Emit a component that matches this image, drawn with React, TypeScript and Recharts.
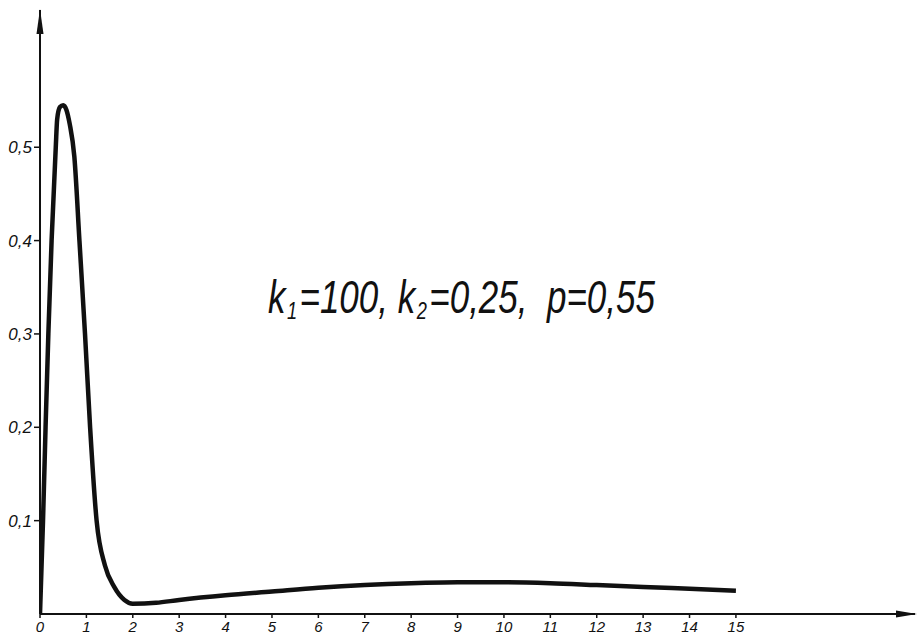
import { Line, LineChart, XAxis, YAxis } from "recharts";

// curve (t, value)
const tValues = [
  0, 0.065, 0.12, 0.18, 0.25, 0.34, 0.37, 0.43, 0.5, 0.57, 0.64, 0.74, 0.85, 0.97, 1.08,
  1.22, 1.4, 1.6, 1.82, 2.0, 2.5, 3, 4, 5, 6, 7, 8, 9, 10, 11, 12, 13, 14, 15,
];
const fValues = [
  0, 0.1, 0.2, 0.3, 0.4, 0.5, 0.53, 0.543, 0.545, 0.54, 0.525, 0.49, 0.4, 0.3, 0.2,
  0.1, 0.052, 0.029, 0.015, 0.011, 0.012, 0.015, 0.02, 0.024, 0.028, 0.031, 0.033, 0.034,
  0.034, 0.033, 0.031, 0.029, 0.027, 0.025,
];
const xTicks = [0, 1, 2, 3, 4, 5, 6, 7, 8, 9, 10, 11, 12, 13, 14, 15];
const yTicks = [0.1, 0.2, 0.3, 0.4, 0.5];

const data = tValues.map((t, i) => ({ t, f: fValues[i] }));

const W = 917;
const H = 638;
const font = "'Liberation Sans', Arial, sans-serif";

const comma = (v: number) => String(v).replace(".", ",");

export default function App() {
  return (
    <div style={{ position: "absolute", left: 0, top: 0, width: W, height: H, background: "#fff" }}>
      <LineChart width={W} height={H} data={data} margin={{ top: 10, right: 2, left: 0, bottom: 0 }}>
        <XAxis
          dataKey="t"
          type="number"
          domain={[0, 18.86]}
          ticks={xTicks}
          interval={0}
          allowDataOverflow
          height={24}
          tickSize={4}
          tickMargin={3}
          tick={{ fontSize: 15, fontStyle: "italic", fontFamily: font, fill: "#111" }}
          axisLine={{ stroke: "#111", strokeWidth: 2 }}
          tickLine={{ stroke: "#111", strokeWidth: 1.5 }}
        />
        <YAxis
          type="number"
          domain={[0, 0.647]}
          ticks={yTicks}
          interval={0}
          allowDataOverflow
          width={40}
          tickSize={6}
          tickMargin={2}
          tickFormatter={comma}
          tick={{ fontSize: 17, fontStyle: "italic", fontFamily: font, fill: "#111" }}
          axisLine={{ stroke: "#111", strokeWidth: 2 }}
          tickLine={{ stroke: "#111", strokeWidth: 1.5 }}
        />
        <Line
          dataKey="f"
          type="monotoneX"
          stroke="#111"
          strokeWidth={4.5}
          dot={false}
          isAnimationActive={false}
        />
      </LineChart>
      <svg
        width={W}
        height={H}
        style={{ position: "absolute", left: 0, top: 0, pointerEvents: "none" }}
      >
        <polygon points="40,9 36.5,34 43.5,34" fill="#111" />
        <polygon points="917,614 896,610.5 896,617.5" fill="#111" />
        <text
          x={268}
          y={313}
          fontFamily={font}
          fontStyle="italic"
          fontSize={46}
          fill="#111"
          textLength={387}
          lengthAdjust="spacingAndGlyphs"
        >
          k<tspan fontSize={24} dx={2} dy={6}>1</tspan>
          <tspan dx={3} dy={-6}>=100, k</tspan>
          <tspan fontSize={24} dx={2} dy={6}>2</tspan>
          <tspan dx={3} dy={-6}>{"=0,25,\u00a0\u00a0p=0,55"}</tspan>
        </text>
      </svg>
    </div>
  );
}
